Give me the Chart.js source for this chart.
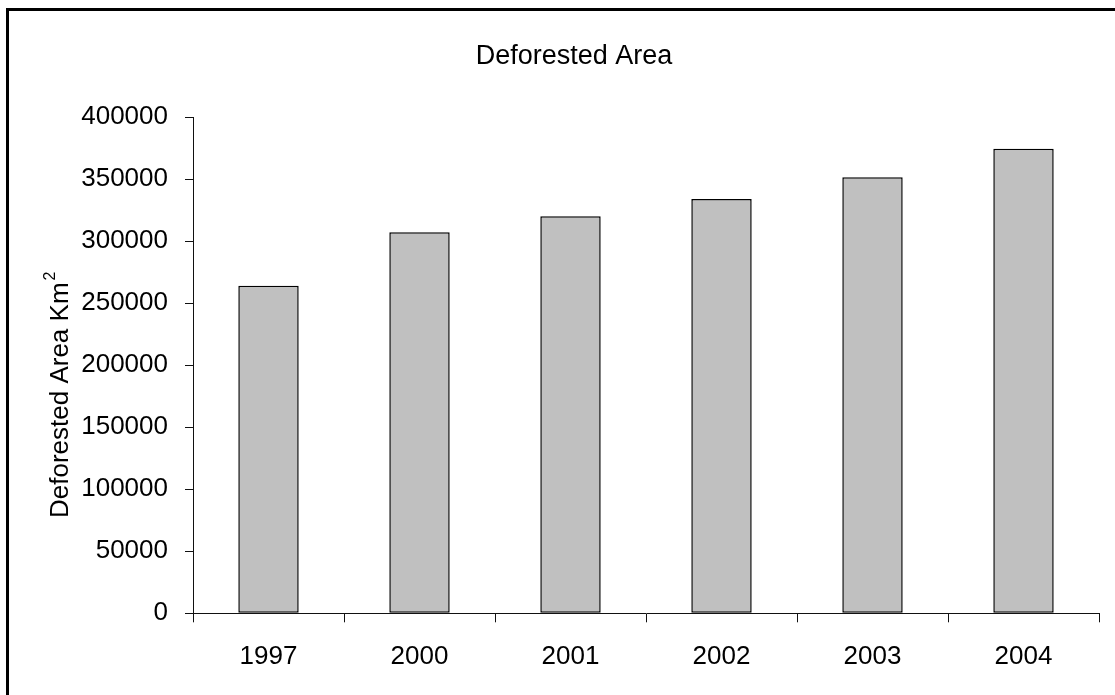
<!DOCTYPE html>
<html>
<head>
<meta charset="utf-8">
<style>
  html, body { margin: 0; padding: 0; background: #ffffff; }
  #wrap { position: relative; width: 1115px; height: 695px; }
</style>
<script src="https://cdn.jsdelivr.net/npm/chart.js@4/dist/chart.umd.min.js"></script>
</head>
<body>
<div id="wrap"><canvas id="chart" width="1115" height="695"></canvas></div>
<script>
// Deforested area by year (km²)
const years = ['1997', '2000', '2001', '2002', '2003', '2004'];
const deforestedArea = [264200, 307300, 320200, 334100, 351600, 374700];
const yTickValues = [0, 50000, 100000, 150000, 200000, 250000, 300000, 350000, 400000];

const chartTitle = 'Deforested Area';
const yAxisTitle = 'Deforested Area Km';
const yAxisTitleSup = '2';

const FONT = '"Liberation Sans", Arial, Helvetica, sans-serif';
const AXIS_COLOR = '#111111';

// Thick frame along the left and top edges, white page background
const framePlugin = {
  id: 'frame',
  beforeDraw(chart) {
    const ctx = chart.ctx;
    ctx.save();
    ctx.fillStyle = '#ffffff';
    ctx.fillRect(0, 0, chart.width, chart.height);
    ctx.restore();
  },
  afterDraw(chart) {
    const ctx = chart.ctx;
    ctx.save();
    ctx.strokeStyle = '#000000';
    ctx.lineWidth = 3;
    ctx.beginPath();
    ctx.moveTo(7.5, chart.height + 2);
    ctx.lineTo(7.5, 9.5);
    ctx.lineTo(chart.width + 2, 9.5);
    ctx.stroke();
    ctx.restore();
  }
};

// Chart title and rotated y-axis title (with superscript exponent)
const titlesPlugin = {
  id: 'titles',
  afterDraw(chart) {
    const ctx = chart.ctx;
    ctx.save();
    ctx.fillStyle = '#000000';
    ctx.font = '27px ' + FONT;
    ctx.textAlign = 'center';
    ctx.textBaseline = 'middle';
    ctx.fillText(chartTitle, 574, 56.5);

    ctx.translate(68, 518);
    ctx.rotate(-Math.PI / 2);
    ctx.textAlign = 'left';
    ctx.textBaseline = 'alphabetic';
    ctx.font = '26px ' + FONT;
    ctx.fillText(yAxisTitle, 0, 0);
    const w = ctx.measureText(yAxisTitle).width;
    ctx.font = '16px ' + FONT;
    ctx.fillText(yAxisTitleSup, w + 2, -13);
    ctx.restore();
  }
};

new Chart(document.getElementById('chart'), {
  type: 'bar',
  data: {
    labels: years,
    datasets: [{
      label: chartTitle,
      data: deforestedArea,
      backgroundColor: '#c0c0c0',
      borderColor: '#000000',
      borderWidth: 1.5,
      borderSkipped: false,
      categoryPercentage: 1.0,
      barPercentage: 0.4
    }]
  },
  options: {
    responsive: false,
    animation: false,
    devicePixelRatio: 1,
    layout: { padding: { left: 0, right: 16, top: 117.3, bottom: 0 } },
    plugins: {
      legend: { display: false },
      tooltip: { enabled: false },
      title: { display: false }
    },
    scales: {
      x: {
        offset: true,
        grid: {
          offset: true,
          drawOnChartArea: false,
          drawTicks: true,
          tickLength: 9,
          color: AXIS_COLOR,
          lineWidth: 1
        },
        border: { display: true, color: AXIS_COLOR, width: 1 },
        ticks: {
          color: '#000000',
          font: { family: FONT, size: 26 },
          padding: 19,
          maxRotation: 0
        },
        afterFit(scale) { scale.height = 81.7; }
      },
      y: {
        min: 0,
        max: 400000,
        afterBuildTicks(scale) {
          scale.ticks = yTickValues.map(v => ({ value: v }));
        },
        grid: {
          drawOnChartArea: false,
          drawTicks: true,
          tickLength: 8,
          color: AXIS_COLOR,
          lineWidth: 1
        },
        border: { display: true, color: AXIS_COLOR, width: 1 },
        ticks: {
          color: '#000000',
          font: { family: FONT, size: 26 },
          padding: 17,
          callback: v => String(v)
        },
        afterFit(scale) { scale.width = 193; }
      }
    }
  },
  plugins: [framePlugin, titlesPlugin]
});
</script>
</body>
</html>
